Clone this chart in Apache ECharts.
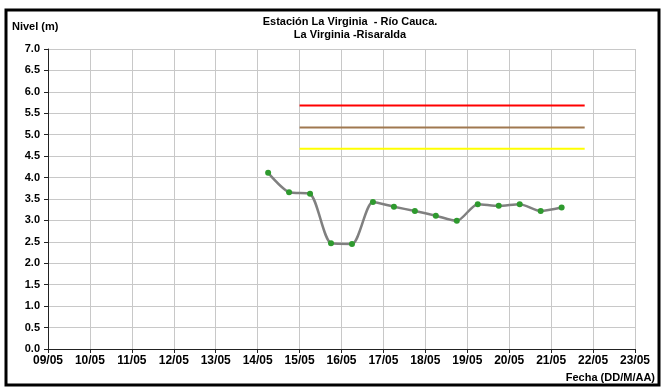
<!DOCTYPE html>
<html>
<head>
<meta charset="utf-8">
<script src="https://cdn.jsdelivr.net/npm/echarts@6/dist/echarts.min.js"></script>
<style>
  html, body { margin: 0; padding: 0; background: #fff; }
  #chart { width: 664px; height: 390px; }
</style>
</head>
<body>
<div id="chart"></div>
<script>
// days of May (fractional = hour of day)
var fechas = [14.25, 14.75, 15.25, 15.75, 16.25, 16.75, 17.25, 17.75, 18.25, 18.75, 19.25, 19.75, 20.25, 20.75, 21.25];
var niveles = [4.11, 3.66, 3.62, 2.47, 2.45, 3.43, 3.32, 3.22, 3.11, 2.99, 3.38, 3.34, 3.38, 3.22, 3.30];

// alert levels: red, brown, yellow
var alertas = [5.68, 5.17, 4.67];
var alertaColores = ['#ff0000', '#a07850', '#ffff00'];
var alertaInicio = 15.0;
var alertaFin = 21.8;

var titulo = 'Estación La Virginia  - Río Cauca.\nLa Virginia -Risaralda';
var fuente = 'Liberation Sans, Arial, sans-serif';

var myChart = echarts.init(document.getElementById('chart'));

var puntos = fechas.map(function (f, i) { return [f, niveles[i]]; });

var series = alertas.map(function (v, i) {
  return {
    type: 'line',
    data: [[alertaInicio, v], [alertaFin, v]],
    symbol: 'none',
    lineStyle: { color: alertaColores[i], width: 2 },
    silent: true,
    z: 2
  };
});
series.push({
  type: 'line',
  data: puntos,
  smooth: 0.25,
  symbol: 'circle',
  symbolSize: 6,
  lineStyle: { color: '#808080', width: 2.5 },
  itemStyle: { color: '#2e9a2e' },
  z: 3
});

var option = {
  animation: false,
  textStyle: { fontFamily: fuente },
  title: {
    text: titulo,
    left: 345,
    textAlign: 'center',
    top: 10,
    textStyle: { fontSize: 11, fontWeight: 'bold', color: '#000', lineHeight: 13, fontFamily: fuente }
  },
  graphic: [
    {
      type: 'rect',
      shape: { x: 6, y: 10, width: 653, height: 375 },
      style: { fill: null, stroke: '#000', lineWidth: 3 },
      silent: true
    },
    {
      type: 'text', left: 12, top: 21,
      style: { text: 'Nivel (m)', font: 'bold 11px ' + fuente, fill: '#000' }
    },
    {
      type: 'text', right: 9, top: 372,
      style: { text: 'Fecha (DD/M/AA)', font: 'bold 11px ' + fuente, fill: '#000' }
    }
  ],
  grid: { left: 48, right: 29, top: 49, bottom: 41 },
  xAxis: {
    type: 'value',
    min: 9, max: 23, interval: 1,
    axisLine: { show: true, onZero: false, lineStyle: { color: '#222', width: 1 } },
    axisTick: { show: true, length: 4, inside: false, lineStyle: { color: '#222' } },
    axisLabel: {
      color: '#000', fontWeight: 'bold', fontSize: 12, margin: 6,
      formatter: function (v) { return (v < 10 ? '0' : '') + v + '/05'; }
    },
    splitLine: { show: true, lineStyle: { color: '#c8c8c8', width: 1 } }
  },
  yAxis: {
    type: 'value',
    min: 0, max: 7, interval: 0.5,
    axisLine: { show: true, lineStyle: { color: '#222', width: 1 } },
    axisTick: { show: true, length: 4, lineStyle: { color: '#222' } },
    axisLabel: {
      color: '#000', fontWeight: 'bold', fontSize: 11, margin: 8,
      formatter: function (v) { return v.toFixed(1); }
    },
    splitLine: { show: true, lineStyle: { color: '#c8c8c8', width: 1 } }
  },
  series: series
};

myChart.setOption(option);
</script>
</body>
</html>
